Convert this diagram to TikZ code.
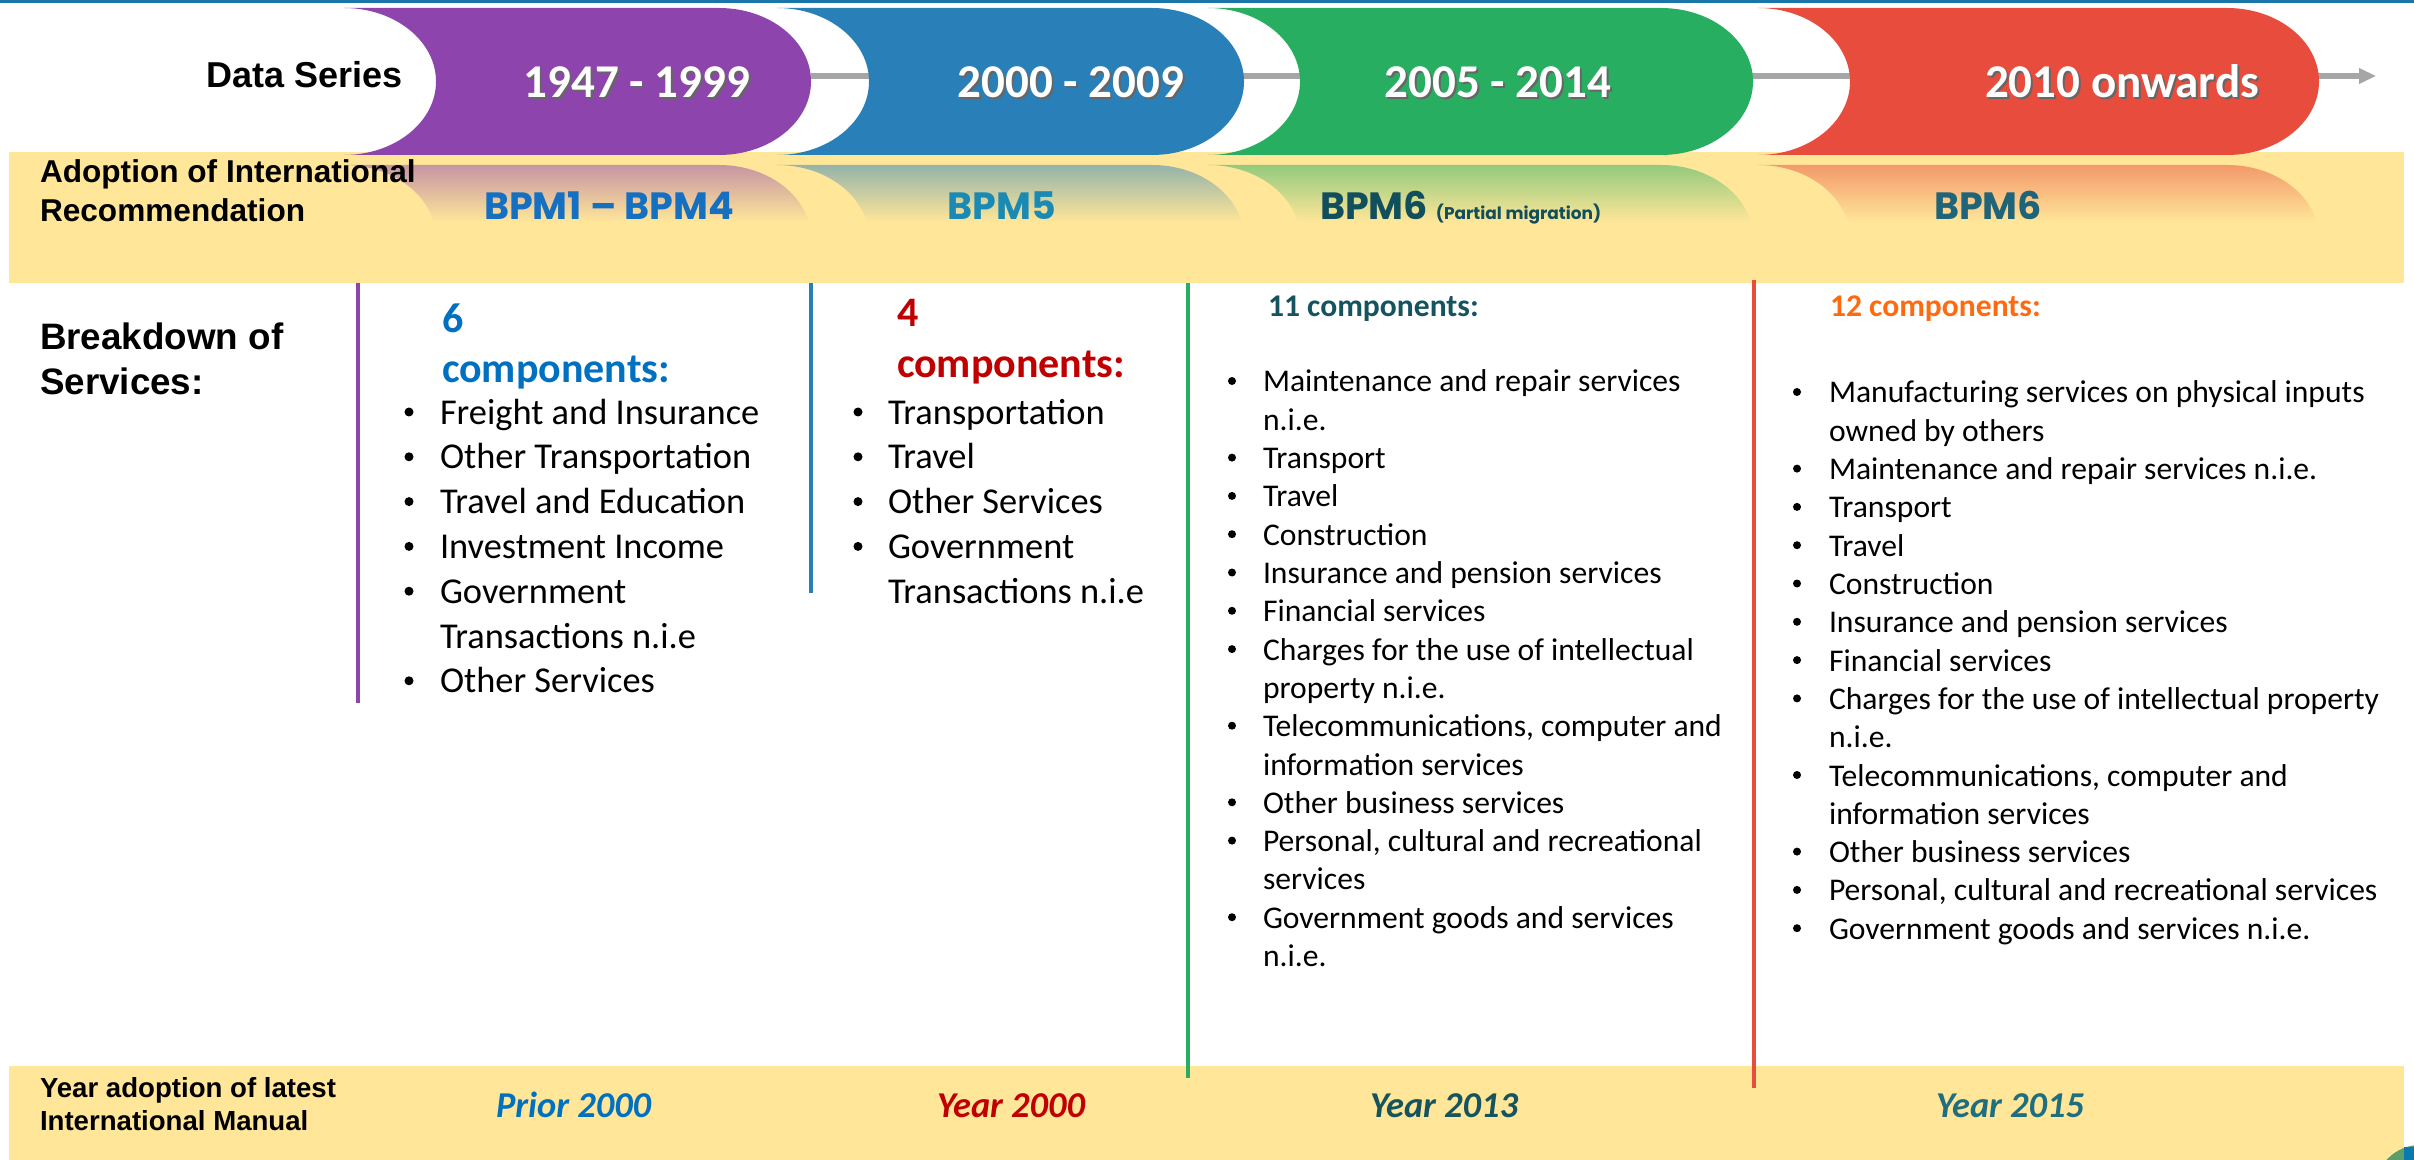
\documentclass[tikz,border=0pt]{standalone}
\usepackage{fontspec}
\setmainfont{Carlito}
\newfontfamily\arialf{Liberation Sans}
\newfontfamily\popf{Poppins}
\usetikzlibrary{arrows.meta}
\definecolor{band}{HTML}{FFE699}
\definecolor{cPur}{HTML}{8E44AD}
\definecolor{cBlu}{HTML}{2980B9}
\definecolor{cGrn}{HTML}{27AE60}
\definecolor{cRed}{HTML}{E74C3C}
\definecolor{topline}{HTML}{1A75A8}
\definecolor{arrowgray}{HTML}{A6A6A6}
\definecolor{tBlue}{HTML}{0070C0}
\definecolor{tRed}{HTML}{C00000}
\definecolor{tTeal}{HTML}{15545F}
\definecolor{tTeal2}{HTML}{1E6E80}
\definecolor{tOrange}{HTML}{FF6A10}
\definecolor{bpmA}{HTML}{1670C2}
\definecolor{bpmB}{HTML}{1A8AB4}
\definecolor{bpmC}{HTML}{124F5C}
\definecolor{bpmD}{HTML}{1F6478}
\definecolor{logoG}{HTML}{5B9E6B}
\definecolor{logoB}{HTML}{0A7AAE}
% capsule: xL, xE (centre of right end), top, bottom, options
\newcommand\capsule[5]{\path[#5] (#1,#3) -- (#2,#3)
  arc[start angle=90,end angle=-90,x radius=46pt,y radius=36.75pt] -- (#1,#4)
  arc[start angle=-90,end angle=90,x radius=46pt,y radius=36.75pt] -- cycle;}
\begin{document}
\begin{tikzpicture}[x=0.5pt,y=-0.5pt,
  every node/.style={inner sep=0pt,outer sep=0pt},
  hdrA/.style={font={\arialf\bfseries\fontsize{18pt}{22pt}\selectfont}},
  hdrB/.style={font={\arialf\bfseries\fontsize{15.8pt}{19pt}\selectfont},anchor=base west},
  hdrC/.style={font={\arialf\bfseries\fontsize{18.4pt}{22pt}\selectfont},anchor=base west},
  hdrD/.style={font={\arialf\bfseries\fontsize{13.8pt}{17pt}\selectfont},anchor=base west},
  yrtxt/.style={font={\bfseries\fontsize{23.5pt}{28pt}\selectfont},anchor=base},
  bpm/.style={font={\popf\bfseries\fontsize{19pt}{23pt}\selectfont},anchor=base},
  bigitem/.style={font={\fontsize{18.2pt}{21pt}\selectfont},anchor=base west},
  smitem/.style={font={\fontsize{15.8pt}{19pt}\selectfont},anchor=base west},
  bigbul/.style={circle,fill=black,minimum size=4.5pt},
  smbul/.style={circle,fill=black,minimum size=4pt},
  bighead/.style={font={\bfseries\fontsize{21pt}{25pt}\selectfont},anchor=base west},
  smhead/.style={font={\bfseries\fontsize{15.8pt}{19pt}\selectfont},anchor=base west},
  yeartxt/.style={font={\bfseries\itshape\fontsize{18.2pt}{22pt}\selectfont},anchor=base west},
  vline/.style={line width=2pt},
  gline/.style={line width=3pt,draw=arrowgray,-{Triangle[length=8.5pt,width=7.5pt]}}]
\useasboundingbox (0,0) rectangle (2414,1160);
% top rule
\fill[topline] (0,0) rectangle (2414,3);
% yellow bands
\fill[band] (9,152) rectangle (2404,283);
\fill[band] (9,1066) rectangle (2404,1160);
% reflections
\begin{scope}
\capsule{344}{719}{165}{312}{clip}
\shade[top color=cPur!50!band,bottom color=band] (344,165) rectangle (811,222);
\end{scope}
\begin{scope}
\capsule{777}{1152}{165}{312}{clip}
\shade[top color=cBlu!50!band,bottom color=band] (777,165) rectangle (1244,222);
\end{scope}
\begin{scope}
\capsule{1208}{1661}{165}{312}{clip}
\shade[top color=cGrn!50!band,bottom color=band] (1208,165) rectangle (1753,222);
\end{scope}
\begin{scope}
\capsule{1758}{2227}{165}{312}{clip}
\shade[top color=cRed!50!band,bottom color=band] (1758,165) rectangle (2319,222);
\end{scope}
% connecting arrow
\coordinate (gs) at (811,76);
\coordinate (ge) at (2376,76);
\draw[gline] (gs) -- (ge);
% capsules
\capsule{344}{719}{8}{155}{fill=cPur}
\capsule{777}{1152}{8}{155}{fill=cBlu}
\capsule{1208}{1661}{8}{155}{fill=cGrn}
\capsule{1758}{2227}{8}{155}{fill=cRed}
% capsule labels
\node[yrtxt,text=black!60] (y1s) at (639,100) {1947 - 1999};
\node[yrtxt,text=white] (y1) at (637,98) {1947 - 1999};
\node[yrtxt,text=black!60] (y2s) at (1073,100) {2000 - 2009};
\node[yrtxt,text=white] (y2) at (1071,98) {2000 - 2009};
\node[yrtxt,text=black!60] (y3s) at (1500,100) {2005 - 2014};
\node[yrtxt,text=white] (y3) at (1498,98) {2005 - 2014};
\node[yrtxt,text=black!60] (y4s) at (2124,100) {2010 onwards};
\node[yrtxt,text=white] (y4) at (2122,98) {2010 onwards};
% row headers
\node[hdrA,anchor=base east] (ds) at (403,88) {Data Series};
\node[hdrB] (ad1) at (40,183) {Adoption of International};
\node[hdrB] (ad2) at (40,222) {Recommendation};
\node[hdrC] (bk1) at (40,350) {Breakdown of};
\node[hdrC] (bk2) at (40,395) {Services:};
\node[hdrD] (ya1) at (40,1097) {Year adoption of latest};
\node[hdrD] (ya2) at (40,1130) {International Manual};
% BPM labels
\node[bpm,text=bpmA] (b1) at (609,220) {BPM1 – BPM4};
\node[bpm,text=bpmB] (b2) at (1002,220) {BPM5};
\node[bpm,text=bpmC,anchor=base west] (b3) at (1320,220) {BPM6 {\fontsize{8.5pt}{10pt}\selectfont(Partial migration)}};
\node[bpm,text=bpmD] (b4) at (1988,220) {BPM6};
% vertical lines
\draw[vline,cPur] (358,283) -- (358,703);
\draw[vline,cBlu] (811,283) -- (811,593);
\draw[vline,cGrn] (1188,283) -- (1188,1078);
\draw[vline,cRed] (1754,280) -- (1754,1088);
% column 1
\node[bighead,text=tBlue] (h1a) at (442,333) {6};
\node[bighead,text=tBlue] (h1b) at (442,383) {components:};
\foreach \b/\t [count=\k from 0] in {1/Freight and Insurance,1/Other Transportation,1/Travel and Education,1/Investment Income,1/Government,0/Transactions n.i.e,1/Other Services}{
  \node[bigitem] (c1t\k) at (440,{424+44.8*\k}) {\t};
  \ifnum\b=1 \node[bigbul] (c1b\k) at (409,{412+44.8*\k}) {};\fi
}
% column 2
\node[bighead,text=tRed] (h2a) at (897,327) {4};
\node[bighead,text=tRed] (h2b) at (897,378) {components:};
\foreach \b/\t [count=\k from 0] in {1/Transportation,1/Travel,1/Other Services,1/Government,0/Transactions n.i.e}{
  \node[bigitem] (c2t\k) at (888,{424+44.8*\k}) {\t};
  \ifnum\b=1 \node[bigbul] (c2b\k) at (858,{412+44.8*\k}) {};\fi
}
% column 3
\node[smhead,text=tTeal] (h3) at (1268,317) {11 components:};
\foreach \b/\t [count=\k from 0] in {1/Maintenance and repair services,0/n.i.e.,1/Transport,1/Travel,1/Construction,1/Insurance and pension services,1/Financial services,1/Charges for the use of intellectual,0/property n.i.e.,1/{Telecommunications, computer and},0/information services,1/Other business services,1/{Personal, cultural and recreational},0/services,1/Government goods and services,0/n.i.e.}{
  \node[smitem] (c3t\k) at (1263,{392+38.3*\k}) {\t};
  \ifnum\b=1 \node[smbul] (c3b\k) at (1232,{381+38.3*\k}) {};\fi
}
% column 4
\node[smhead,text=tOrange] (h4) at (1830,317) {12 components:};
\foreach \b/\t [count=\k from 0] in {1/Manufacturing services on physical inputs,0/owned by others,1/Maintenance and repair services n.i.e.,1/Transport,1/Travel,1/Construction,1/Insurance and pension services,1/Financial services,1/Charges for the use of intellectual property,0/n.i.e.,1/{Telecommunications, computer and},0/information services,1/Other business services,1/{Personal, cultural and recreational services},1/Government goods and services n.i.e.}{
  \node[smitem] (c4t\k) at (1829,{403+38.3*\k}) {\t};
  \ifnum\b=1 \node[smbul] (c4b\k) at (1797,{392+38.3*\k}) {};\fi
}
% bottom years
\node[yeartxt,text=tBlue] (yr1) at (496,1117) {Prior 2000};
\node[yeartxt,text=tRed] (yr2) at (937,1117) {Year 2000};
\node[yeartxt,text=tTeal] (yr3) at (1370,1117) {Year 2013};
\node[yeartxt,text=tTeal2] (yr4) at (1936,1117) {Year 2015};
% logo corner
\begin{scope}
\clip (0,0) rectangle (2414,1160);
\fill[logoG] (2420,1190) circle[radius=22.5pt];
\fill[logoB] (2404,1147) rectangle (2414,1160);
\end{scope}
\end{tikzpicture}
\end{document}
